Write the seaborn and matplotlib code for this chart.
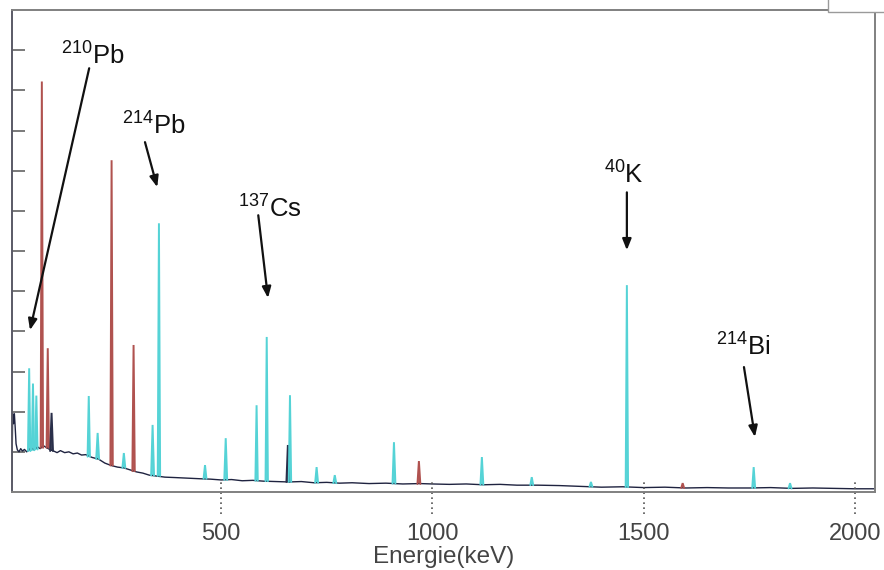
import matplotlib
matplotlib.use("Agg")
import matplotlib.pyplot as plt
import matplotlib.transforms as mtransforms
from matplotlib.patches import Rectangle
import numpy as np
import pandas as pd
import seaborn as sns

# Continuum of the gamma spectrum (energy in keV, relative counts)
continuum_energy = [5, 7, 9, 11, 13, 15, 18, 22, 26, 30, 35, 40, 45, 50, 58, 66, 72, 80,
                    88, 96, 104, 112, 120, 130, 140, 150, 160, 170, 180, 195, 210, 225,
                    240, 255, 270, 285, 300, 315, 330, 345, 367, 390, 410, 430, 450, 475,
                    500, 525, 550, 575, 600, 630, 660, 690, 720, 750, 780, 810, 850, 890,
                    930, 970, 1000, 1040, 1080, 1120, 1160, 1200, 1250, 1300, 1350, 1400,
                    1450, 1500, 1550, 1600, 1650, 1700, 1750, 1800, 1850, 1900, 1950, 2000, 2047]
continuum_counts = [0.25, 1.95, 1.70, 1.95, 1.60, 1.20, 1.05, 1.00, 1.08, 1.02, 1.06, 1.00, 1.04,
                    1.10, 1.05, 1.12, 1.08, 1.15, 1.10, 1.05, 1.02, 0.98, 1.03, 0.98, 1.00, 0.95,
                    0.97, 0.92, 0.93, 0.86, 0.82, 0.72, 0.66, 0.62, 0.60, 0.55, 0.50, 0.47, 0.42,
                    0.40, 0.37, 0.36, 0.35, 0.34, 0.33, 0.32, 0.30, 0.31, 0.28, 0.29, 0.27, 0.26,
                    0.25, 0.26, 0.23, 0.24, 0.22, 0.23, 0.21, 0.22, 0.20, 0.21, 0.20, 0.19, 0.20,
                    0.18, 0.19, 0.17, 0.17, 0.16, 0.14, 0.12, 0.13, 0.11, 0.12, 0.10, 0.11, 0.10,
                    0.10, 0.11, 0.09, 0.10, 0.09, 0.08, 0.08]

# Photopeaks: energy (keV), peak top, foot level and line colour class
peak_energy = [46, 55, 63, 76, 90, 99, 187, 208, 241, 270, 293, 338, 353, 462, 511, 584, 608,
               658, 663, 726, 769, 909, 968, 1117, 1235, 1375, 1460, 1592, 1760, 1846]
peak_top = [3.08, 2.70, 2.40, 10.22, 3.58, 1.97, 2.39, 1.47, 8.26, 0.97, 3.66, 1.67, 6.69,
            0.67, 1.34, 2.16, 3.86, 1.17, 2.41, 0.62, 0.42, 1.24, 0.77, 0.87, 0.37, 0.25,
            5.15, 0.22, 0.62, 0.22]
peak_base = [1.02, 1.04, 1.06, 1.10, 1.10, 1.02, 0.88, 0.82, 0.66, 0.60, 0.52, 0.41, 0.40,
             0.33, 0.30, 0.28, 0.27, 0.25, 0.25, 0.23, 0.22, 0.21, 0.20, 0.18, 0.17, 0.13,
             0.12, 0.10, 0.10, 0.09]
peak_kind = ["cyan", "cyan", "cyan", "red", "red", "dark", "cyan", "cyan", "red", "cyan",
             "red", "cyan", "cyan", "cyan", "cyan", "cyan", "cyan", "dark", "cyan", "cyan",
             "cyan", "cyan", "red", "cyan", "cyan", "cyan", "cyan", "red", "cyan", "cyan"]

# Nuclide labels: text, label position, arrow tail and arrow head (keV, counts)
nuclide_text = [r"$\mathregular{^{210}}$Pb", r"$\mathregular{^{214}}$Pb",
                r"$\mathregular{^{137}}$Cs", r"$\mathregular{^{40}}$K",
                r"$\mathregular{^{214}}$Bi"]
label_xy = [(197, 10.85), (340, 9.1), (616, 7.05), (1453, 7.9), (1735, 3.62)]
arrow_from = [(188, 10.55), (320, 8.71), (588, 6.89), (1460, 7.46), (1737, 3.11)]
arrow_to = [(48, 4.03), (349, 7.59), (611, 4.83), (1460, 6.02), (1763, 1.37)]

x_ticks = [500, 1000, 1500, 2000]

palette = {"cyan": "#55d3d6", "red": "#b0524f", "dark": "#2a2f4a"}

sns.set_theme(style="white")
plt.rcParams["font.family"] = ["Liberation Sans", "DejaVu Sans"]
plt.rcParams["mathtext.fontset"] = "custom"
plt.rcParams["mathtext.rm"] = "Liberation Sans"

fig = plt.figure(figsize=(8.84, 5.70), dpi=100)
ax = fig.add_axes([12 / 884, 78 / 570, 863 / 884, 482 / 570])

cont = pd.DataFrame({"energy": continuum_energy, "counts": continuum_counts})
sns.lineplot(data=cont, x="energy", y="counts", ax=ax, color="#1f2340", lw=1.0,
             estimator=None, sort=False)

# Each peak drawn as a narrow spike rising from its foot
for e, top, base, kind in zip(peak_energy, peak_top, peak_base, peak_kind):
    w = 2.8 if top > 2 else 3.4
    xs = [e - w, e, e + w]
    ys = [base, top, base]
    ax.fill(xs, ys, color=palette[kind], lw=0, alpha=0.9)
    ax.plot(xs, ys, color=palette[kind], lw=1.4, solid_joinstyle="miter")

ax.set_xlim(5.4, 2047)
ax.set_ylim(0, 12)
ax.set_xticks(x_ticks)
ax.set_xticklabels([str(t) for t in x_ticks], fontsize=17, color="#444444")
ax.set_yticks(range(1, 12))
ax.set_yticklabels([])
ax.tick_params(axis="x", length=0, pad=22)
ax.tick_params(axis="y", direction="in", length=9, width=1.4, color="#7a7a7a", left=True)
ax.set_xlabel("Energie(keV)", fontsize=17.5, color="#444444", labelpad=1)
ax.set_ylabel("")

for side, sp in ax.spines.items():
    sp.set_color("#808080")
    sp.set_linewidth(1.4)
ax.spines["left"].set_color("#5a5a66")

# dotted tick marks crossing the energy axis
trans = mtransforms.blended_transform_factory(ax.transData, ax.transAxes)
for t in x_ticks:
    ax.plot([t, t], [-0.045, 0.025], transform=trans, color="#555555", lw=1.2,
            ls=(0, (1, 2)), clip_on=False)

for txt, lxy, a0, a1 in zip(nuclide_text, label_xy, arrow_from, arrow_to):
    ax.text(lxy[0], lxy[1], txt, fontsize=18.5, ha="center", va="center", color="#111111")
    ax.annotate("", xy=a1, xytext=a0,
                arrowprops=dict(arrowstyle="-|>,head_length=0.55,head_width=0.22",
                                color="#111111", lw=1.6, shrinkA=0, shrinkB=0))

# partially visible box at the top-right corner
fig.patches.append(Rectangle((828 / 884, 558 / 570), 70 / 884, 20 / 570,
                             transform=fig.transFigure, facecolor="white",
                             edgecolor="#9a9a9a", lw=1.0))

fig.savefig("out.png", dpi=100, facecolor="white")
